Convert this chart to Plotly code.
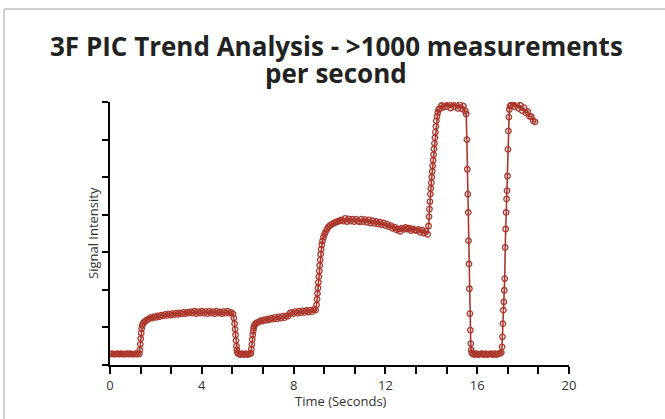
import plotly.graph_objects as go

# ---- data (time in seconds, signal intensity in arbitrary units) ----
t_base1 = [0.0, 0.08, 0.16, 0.24, 0.32, 0.40, 0.48, 0.56, 0.64, 0.72, 0.80, 0.88, 0.96, 1.04, 1.12, 1.20, 1.28]
s_base1 = [0.29, 0.30, 0.29, 0.29, 0.30, 0.29, 0.30, 0.29, 0.29, 0.30, 0.29, 0.30, 0.29, 0.29, 0.30, 0.29, 0.30]

t_rise1 = [1.30, 1.32, 1.34, 1.36, 1.38, 1.40, 1.44, 1.48, 1.54, 1.60]
s_rise1 = [0.40, 0.55, 0.70, 0.85, 0.97, 1.05, 1.10, 1.14, 1.17, 1.20]

t_plat1 = [1.68, 1.76, 1.84, 1.92, 2.00, 2.08, 2.16, 2.24, 2.32, 2.40, 2.48, 2.56, 2.64, 2.72, 2.80, 2.88,
           2.96, 3.04, 3.12, 3.20, 3.28, 3.36, 3.44, 3.52, 3.60, 3.68, 3.76, 3.84, 3.92, 4.00, 4.08, 4.16,
           4.24, 4.32, 4.40, 4.48, 4.56, 4.64, 4.72, 4.80, 4.88, 4.96, 5.04, 5.12, 5.20, 5.28, 5.36]
s_plat1 = [1.22, 1.26, 1.25, 1.29, 1.27, 1.31, 1.29, 1.33, 1.31, 1.35, 1.32, 1.36, 1.33, 1.37, 1.34, 1.38,
           1.35, 1.39, 1.36, 1.40, 1.37, 1.40, 1.38, 1.42, 1.38, 1.43, 1.37, 1.42, 1.38, 1.43, 1.38, 1.42,
           1.37, 1.43, 1.38, 1.42, 1.37, 1.43, 1.38, 1.41, 1.37, 1.42, 1.38, 1.43, 1.38, 1.40, 1.36]

t_drop1 = [5.40, 5.43, 5.45, 5.47, 5.49, 5.51, 5.53, 5.55]
s_drop1 = [1.25, 1.10, 0.95, 0.80, 0.65, 0.50, 0.40, 0.33]

t_base2 = [5.60, 5.68, 5.76, 5.84, 5.92, 6.00, 6.08, 6.14]
s_base2 = [0.30, 0.28, 0.30, 0.28, 0.30, 0.28, 0.30, 0.31]

t_rise2 = [6.16, 6.18, 6.20, 6.22, 6.24, 6.26, 6.28, 6.30, 6.34, 6.40]
s_rise2 = [0.42, 0.55, 0.68, 0.80, 0.90, 0.98, 1.03, 1.07, 1.10, 1.13]

t_plat2 = [6.48, 6.56, 6.64, 6.72, 6.80, 6.88, 6.96, 7.04, 7.12, 7.20, 7.28, 7.36, 7.44, 7.52, 7.60, 7.68,
           7.76, 7.84, 7.92, 8.00, 8.08, 8.16, 8.24, 8.32, 8.40, 8.48, 8.56, 8.64, 8.72, 8.80, 8.88, 8.96]
s_plat2 = [1.14, 1.18, 1.17, 1.21, 1.19, 1.23, 1.21, 1.25, 1.22, 1.27, 1.23, 1.28, 1.25, 1.30, 1.26, 1.31,
           1.30, 1.38, 1.40, 1.37, 1.42, 1.38, 1.43, 1.39, 1.44, 1.40, 1.45, 1.41, 1.46, 1.42, 1.47, 1.46]

t_rise3 = [9.00, 9.02, 9.04, 9.06, 9.08, 9.10, 9.12, 9.14, 9.16, 9.18, 9.20, 9.23, 9.26, 9.30, 9.35, 9.40,
           9.46, 9.52, 9.60, 9.68, 9.76, 9.84, 9.92, 10.00]
s_rise3 = [1.60, 1.75, 1.90, 2.05, 2.20, 2.35, 2.50, 2.65, 2.80, 2.95, 3.08, 3.20, 3.30, 3.40, 3.48, 3.55,
           3.62, 3.68, 3.72, 3.75, 3.78, 3.80, 3.82, 3.84]

t_plat3 = [10.08, 10.16, 10.24, 10.32, 10.40, 10.48, 10.56, 10.64, 10.72, 10.80, 10.88, 10.96, 11.04, 11.12,
           11.20, 11.28, 11.36, 11.44, 11.52, 11.60, 11.68, 11.76, 11.84, 11.92, 12.00, 12.08, 12.16, 12.24,
           12.32, 12.40, 12.48, 12.56, 12.64, 12.72, 12.80, 12.88, 12.96, 13.04, 13.12, 13.20, 13.28, 13.36,
           13.44, 13.52, 13.60, 13.68, 13.76, 13.84]
s_plat3 = [3.86, 3.83, 3.90, 3.82, 3.89, 3.83, 3.88, 3.82, 3.88, 3.83, 3.81, 3.88, 3.82, 3.87,
           3.80, 3.86, 3.78, 3.84, 3.77, 3.82, 3.75, 3.80, 3.73, 3.78, 3.71, 3.75, 3.68, 3.71,
           3.64, 3.67, 3.60, 3.62, 3.56, 3.64, 3.61, 3.66, 3.62, 3.64, 3.58, 3.62, 3.59, 3.58,
           3.61, 3.53, 3.59, 3.51, 3.56, 3.48]

t_rise4 = [13.88, 13.90, 13.92, 13.94, 13.96, 13.98, 14.00, 14.02, 14.04, 14.06, 14.08, 14.10, 14.12, 14.14,
           14.16, 14.18, 14.20, 14.22, 14.25, 14.28, 14.32]
s_rise4 = [3.70, 3.95, 4.15, 4.35, 4.55, 4.70, 4.85, 5.00, 5.15, 5.30, 5.45, 5.60, 5.75, 5.90,
           6.05, 6.20, 6.35, 6.50, 6.62, 6.72, 6.80]

t_plat4 = [14.36, 14.44, 14.52, 14.60, 14.68, 14.76, 14.84, 14.92, 15.00, 15.08, 15.16, 15.24, 15.32, 15.40,
           15.48, 15.52]
s_plat4 = [6.82, 6.90, 6.86, 6.97, 6.88, 6.96, 6.84, 6.97, 6.87, 6.95, 6.83, 6.93, 6.82, 6.89,
           6.76, 6.68]

t_drop2 = [15.55, 15.57, 15.59, 15.61, 15.62, 15.64, 15.66, 15.68, 15.70, 15.72, 15.74, 15.76]
s_drop2 = [6.00, 5.21, 4.55, 4.06, 3.31, 2.69, 2.03, 1.37, 0.93, 0.57, 0.40, 0.33]

t_base3 = [15.80, 15.88, 15.96, 16.04, 16.12, 16.20, 16.28, 16.36, 16.44, 16.52, 16.60, 16.68, 16.76, 16.84,
           16.92, 17.00, 17.05]
s_base3 = [0.30, 0.28, 0.30, 0.28, 0.29, 0.30, 0.28, 0.30, 0.28, 0.29, 0.30, 0.28, 0.30, 0.28,
           0.30, 0.31, 0.33]

t_rise5 = [17.08, 17.10, 17.12, 17.14, 17.16, 17.18, 17.20, 17.22, 17.24, 17.26, 17.28, 17.30, 17.32, 17.34,
           17.36, 17.38, 17.40, 17.43]
s_rise5 = [0.48, 0.75, 1.10, 1.46, 1.68, 1.99, 2.30, 3.13, 3.62, 4.06, 4.42, 4.64, 5.03, 5.74,
           6.23, 6.60, 6.80, 6.89]

t_plat5 = [17.48, 17.56, 17.64, 17.72, 17.80, 17.88, 17.96, 18.04, 18.12, 18.20, 18.28, 18.36, 18.44, 18.52]
s_plat5 = [6.92, 6.98, 6.88, 6.95, 6.83, 6.91, 6.77, 6.85, 6.71, 6.74, 6.62, 6.61, 6.50, 6.47]

x_tick_vals = [0, 4/3, 8/3, 4, 16/3, 20/3, 8, 28/3, 32/3, 12, 40/3, 44/3, 16, 52/3, 56/3, 20]
x_tick_text = ["0", "", "", "4", "", "", "8", "", "", "12", "", "", "16", "", "", "20"]
y_tick_vals = [0, 1, 2, 3, 4, 5, 6, 7]

time = (t_base1 + t_rise1 + t_plat1 + t_drop1 + t_base2 + t_rise2 + t_plat2 + t_rise3 + t_plat3
        + t_rise4 + t_plat4 + t_drop2 + t_base3 + t_rise5 + t_plat5)
signal = (s_base1 + s_rise1 + s_plat1 + s_drop1 + s_base2 + s_rise2 + s_plat2 + s_rise3 + s_plat3
          + s_rise4 + s_plat4 + s_drop2 + s_base3 + s_rise5 + s_plat5)

RED = "#ab362b"
FONT = "Open Sans"

fig = go.Figure()
fig.add_trace(go.Scatter(
    x=time, y=signal, mode="lines+markers",
    line=dict(color=RED, width=1.6),
    marker=dict(symbol="circle-open", size=5.5, color=RED, line=dict(width=1.3, color=RED)),
    hoverinfo="skip", showlegend=False,
))

L, R, T, B = 110, 96, 102, 54
W, H = 665, 419
pw, ph = W - L - R, H - T - B

def px_x(px):
    return (px - L) / pw

def px_y(py):
    return (H - B - py) / ph

fig.update_layout(
    width=W, height=H,
    margin=dict(l=L, r=R, t=T, b=B, pad=0),
    paper_bgcolor="white", plot_bgcolor="white",
    font=dict(family=FONT, color="#333333"),
    xaxis=dict(range=[0, 20], tickvals=x_tick_vals, ticktext=x_tick_text,
               showgrid=False, zeroline=False, showline=True, linecolor="black", linewidth=2,
               ticks="outside", ticklen=7, tickwidth=1.5, tickcolor="black",
               tickfont=dict(family=FONT, size=13, color="#333333")),
    yaxis=dict(range=[0, 7], tickvals=y_tick_vals, showticklabels=False,
               showgrid=False, zeroline=False, showline=True, linecolor="black", linewidth=2,
               ticks="outside", ticklen=6, tickwidth=1.5, tickcolor="black"),
    shapes=[
        dict(type="line", xref="paper", yref="paper", x0=px_x(4), x1=px_x(W + 5),
             y0=px_y(9), y1=px_y(9), line=dict(color="#cfcfcf", width=2)),
        dict(type="line", xref="paper", yref="paper", x0=px_x(4), x1=px_x(4),
             y0=px_y(9), y1=px_y(H + 5), line=dict(color="#cfcfcf", width=2)),
    ],
    annotations=[
        dict(text="<b>3F PIC Trend Analysis - >1000 measurements</b>", xref="paper", yref="paper",
             x=px_x(336), y=px_y(46), xanchor="center", yanchor="middle", showarrow=False,
             font=dict(family=FONT, size=26, color="#222222")),
        dict(text="<b>per second</b>", xref="paper", yref="paper",
             x=px_x(336), y=px_y(73), xanchor="center", yanchor="middle", showarrow=False,
             font=dict(family=FONT, size=26, color="#222222")),
        dict(text="Signal Intensity", xref="paper", yref="paper", textangle=-90,
             x=px_x(93), y=px_y(233), xanchor="center", yanchor="middle", showarrow=False,
             font=dict(family=FONT, size=13, color="#333333")),
        dict(text="Time (Seconds)", xref="paper", yref="paper",
             x=px_x(341), y=px_y(401), xanchor="center", yanchor="middle", showarrow=False,
             font=dict(family=FONT, size=13, color="#333333")),
    ],
)

fig.write_html("out.html", config={"displayModeBar": False},
               post_script="document.body.style.margin='0';")
